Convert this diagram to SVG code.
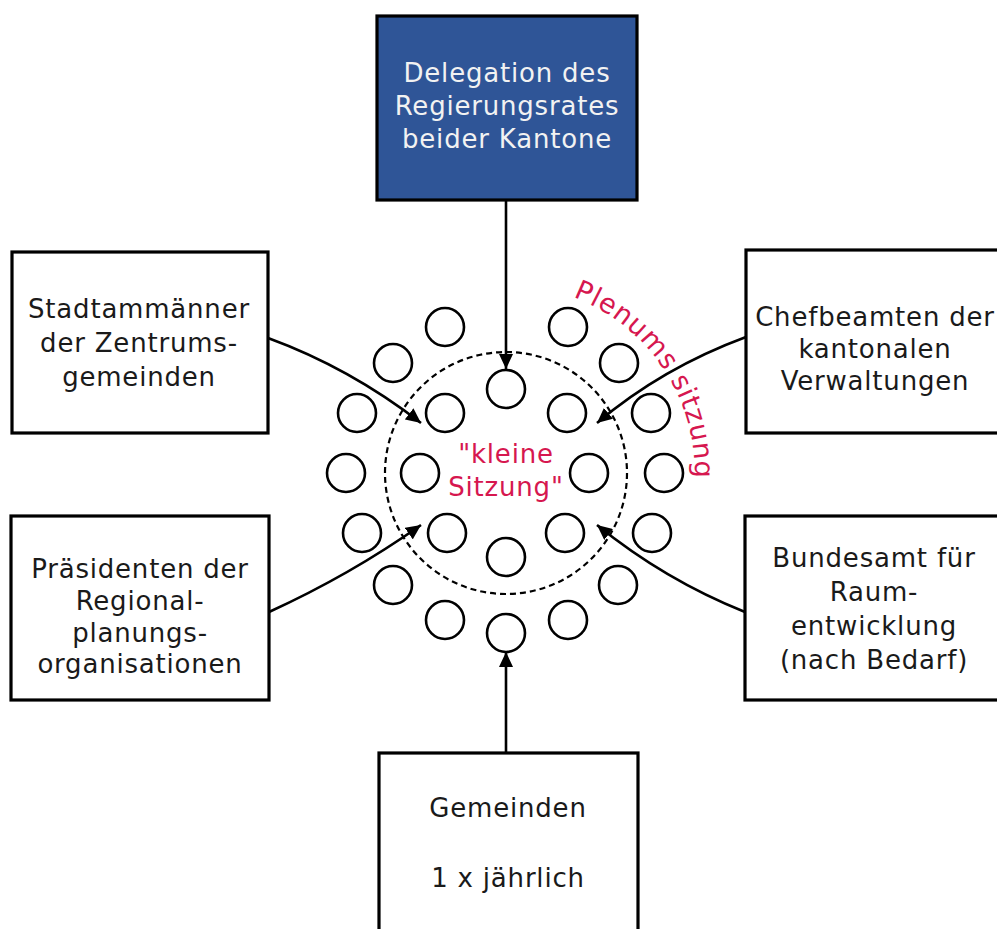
<svg xmlns="http://www.w3.org/2000/svg" width="997" height="929" viewBox="0 0 997 929">
<style>
.box{fill:#fff;stroke:#000;stroke-width:3.2}
.t{font-family:"DejaVu Sans",Verdana,sans-serif;font-size:26px;letter-spacing:0.8px;fill:#1a1a1a;text-anchor:middle}
.w{fill:#f2f2f2}
.r{fill:#d6174f}
.seat{fill:none;stroke:#000;stroke-width:2.6}
.con{fill:none;stroke:#000;stroke-width:2.6}
</style>
<defs>
<marker id="ah" markerUnits="userSpaceOnUse" markerWidth="16" markerHeight="14" refX="15" refY="7" orient="auto">
<path d="M0,0 L15,7 L0,14 z" fill="#000"/>
</marker>
<path id="arc" d="M573,297 A188,188 0 0 1 694,490"/>
</defs>
<rect width="997" height="929" fill="#fff"/>

<g id="connectors">
<path class="con" d="M506,200 L506,369" marker-end="url(#ah)"/>
<path class="con" d="M506,753 L506,652" marker-end="url(#ah)"/>
<path class="con" d="M268,338 Q350,368 421,423" marker-end="url(#ah)"/>
<path class="con" d="M746,337 Q662,368 597,423" marker-end="url(#ah)"/>
<path class="con" d="M269,612 Q350,575 421,525" marker-end="url(#ah)"/>
<path class="con" d="M745,612 Q665,580 597,525" marker-end="url(#ah)"/>
</g>

<g id="plenum">
<circle cx="506" cy="473" r="121" fill="none" stroke="#000" stroke-width="2.2" stroke-dasharray="6 4"/>
<circle class="seat" cx="445" cy="327" r="19"/>
<circle class="seat" cx="568" cy="327" r="19"/>
<circle class="seat" cx="393" cy="363" r="19"/>
<circle class="seat" cx="619" cy="363" r="19"/>
<circle class="seat" cx="357" cy="413" r="19"/>
<circle class="seat" cx="651" cy="413" r="19"/>
<circle class="seat" cx="346" cy="473" r="19"/>
<circle class="seat" cx="664" cy="473" r="19"/>
<circle class="seat" cx="362" cy="533" r="19"/>
<circle class="seat" cx="652" cy="533" r="19"/>
<circle class="seat" cx="393" cy="585" r="19"/>
<circle class="seat" cx="618" cy="585" r="19"/>
<circle class="seat" cx="445" cy="620" r="19"/>
<circle class="seat" cx="568" cy="620" r="19"/>
<circle class="seat" cx="506" cy="633" r="19"/>
<circle class="seat" cx="506" cy="389" r="19"/>
<circle class="seat" cx="445" cy="413" r="19"/>
<circle class="seat" cx="567" cy="413" r="19"/>
<circle class="seat" cx="420" cy="473" r="19"/>
<circle class="seat" cx="589" cy="473" r="19"/>
<circle class="seat" cx="447" cy="533" r="19"/>
<circle class="seat" cx="565" cy="533" r="19"/>
<circle class="seat" cx="506" cy="557" r="19"/>
<text class="t r" x="506" y="463">"kleine</text>
<text class="t r" x="506" y="496">Sitzung"</text>
<text class="t r" style="text-anchor:start;font-size:27px"><textPath href="#arc">Plenums sitzung</textPath></text>
</g>

<g id="delegation">
<rect x="377" y="16" width="260" height="184" fill="#2f5597" stroke="#000" stroke-width="3.2"/>
<text class="t w" x="507" y="82">Delegation des</text>
<text class="t w" x="507" y="115">Regierungsrates</text>
<text class="t w" x="507" y="148">beider Kantone</text>
</g>

<g id="stadtammaenner">
<rect class="box" x="12" y="252" width="256" height="181"/>
<text class="t" x="139" y="318">Stadtammänner</text>
<text class="t" x="139" y="352">der Zentrums-</text>
<text class="t" x="139" y="386">gemeinden</text>
</g>

<g id="chefbeamten">
<rect class="box" x="746" y="250" width="258" height="183"/>
<text class="t" x="875" y="326">Chefbeamten der</text>
<text class="t" x="875" y="358">kantonalen</text>
<text class="t" x="875" y="390">Verwaltungen</text>
</g>

<g id="praesidenten">
<rect class="box" x="11" y="516" width="258" height="184"/>
<text class="t" x="140" y="578">Präsidenten der</text>
<text class="t" x="140" y="610">Regional-</text>
<text class="t" x="140" y="642">planungs-</text>
<text class="t" x="140" y="673">organisationen</text>
</g>

<g id="bundesamt">
<rect class="box" x="745" y="516" width="259" height="184"/>
<text class="t" x="874" y="567">Bundesamt für</text>
<text class="t" x="874" y="601">Raum-</text>
<text class="t" x="874" y="635">entwicklung</text>
<text class="t" x="874" y="669">(nach Bedarf)</text>
</g>

<g id="gemeinden">
<rect class="box" x="379" y="753" width="259" height="190"/>
<text class="t" x="508" y="817">Gemeinden</text>
<text class="t" x="508" y="887">1 x jährlich</text>
</g>
</svg>
